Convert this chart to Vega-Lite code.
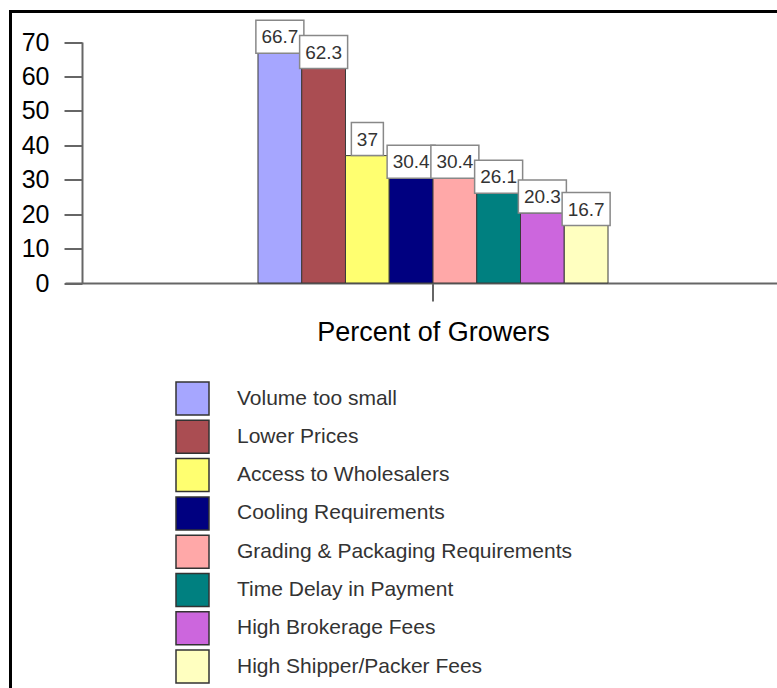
{
  "$schema": "https://vega.github.io/schema/vega-lite/v6.json",
  "width": 780,
  "height": 690,
  "autosize": {"type": "none"},
  "padding": {"left": 10.5, "top": 11.5, "right": 0, "bottom": 0},
  "background": "white",
  "config": {
    "view": {"stroke": "black", "strokeWidth": 3, "fill": "white"},
    "font": "Liberation Sans"
  },
  "data": {
    "values": [
      {"category": "Volume too small", "value": 66.7},
      {"category": "Lower Prices", "value": 62.3},
      {"category": "Access to Wholesalers", "value": 37},
      {"category": "Cooling Requirements", "value": 30.4},
      {"category": "Grading & Packaging Requirements", "value": 30.4},
      {"category": "Time Delay in Payment", "value": 26.1},
      {"category": "High Brokerage Fees", "value": 20.3},
      {"category": "High Shipper/Packer Fees", "value": 16.7}
    ]
  },
  "encoding": {
    "x": {
      "field": "category",
      "type": "nominal",
      "sort": null,
      "scale": {
        "domain": ["_l4", "_l3", "_l2", "_l1", "Volume too small", "Lower Prices", "Access to Wholesalers", "Cooling Requirements", "Grading & Packaging Requirements", "Time Delay in Payment", "High Brokerage Fees", "High Shipper/Packer Fees", "_r1", "_r2", "_r3", "_r4"],
        "range": [54.5, 790.5],
        "paddingInner": 0,
        "paddingOuter": 0.4114
      },
      "axis": {
        "orient": "bottom",
        "offset": -418.5,
        "values": ["Grading & Packaging Requirements"],
        "bandPosition": 0,
        "tickExtra": false,
        "labels": false,
        "grid": false,
        "domain": true,
        "domainColor": "#666666",
        "domainWidth": 2,
        "ticks": true,
        "tickColor": "#666666",
        "tickWidth": 2,
        "tickSize": 18,
        "title": "Percent of Growers",
        "titleFont": "Liberation Sans",
        "titleFontSize": 27,
        "titleFontWeight": "normal",
        "titleColor": "#000000",
        "titlePadding": 17
      }
    },
    "y": {
      "field": "value",
      "type": "quantitative",
      "scale": {"domain": [0, 70], "range": [271.5, 30.5], "nice": false},
      "axis": {
        "orient": "left",
        "offset": -71.5,
        "values": [0, 10, 20, 30, 40, 50, 60, 70],
        "grid": false,
        "domain": true,
        "domainColor": "#666666",
        "domainWidth": 2,
        "ticks": true,
        "tickColor": "#666666",
        "tickWidth": 2,
        "tickSize": 18,
        "labelFont": "Liberation Sans",
        "labelFontSize": 25,
        "labelColor": "#000000",
        "labelPadding": 15,
        "title": null
      }
    }
  },
  "layer": [
    {
      "mark": {"type": "bar", "stroke": "#3a3a3a", "strokeWidth": 1},
      "encoding": {
        "color": {
          "field": "category",
          "type": "nominal",
          "sort": null,
          "scale": {
            "domain": ["Volume too small", "Lower Prices", "Access to Wholesalers", "Cooling Requirements", "Grading & Packaging Requirements", "Time Delay in Payment", "High Brokerage Fees", "High Shipper/Packer Fees"],
            "range": ["#A6A6FF", "#AA4D52", "#FFFF70", "#000080", "#FFA8A8", "#008080", "#CC66DD", "#FFFFC0"]
          },
          "legend": {
            "title": null,
            "orient": "none",
            "legendX": 164.5,
            "legendY": 369.5,
            "padding": 0,
            "symbolType": "square",
            "symbolSize": 1089,
            "symbolStrokeColor": "#333333",
            "symbolStrokeWidth": 1.5,
            "symbolOpacity": 1,
            "labelFont": "Liberation Sans",
            "labelFontSize": 21,
            "labelColor": "#333333",
            "labelOffset": 27,
            "labelLimit": 0,
            "rowPadding": -0.7
          }
        }
      }
    },
    {
      "transform": [{"filter": "datum.value != 37"}],
      "mark": {"type": "point", "shape": "M-1,-0.6875H1V0.6875H-1Z", "size": 2304, "filled": true, "fill": "white", "stroke": "#888888", "strokeWidth": 1.5, "opacity": 1, "yOffset": -16.5}
    },
    {
      "transform": [{"filter": "datum.value == 37"}],
      "mark": {"type": "point", "shape": "M-1,-1.031H1V1.031H-1Z", "size": 1024, "filled": true, "fill": "white", "stroke": "#888888", "strokeWidth": 1.5, "opacity": 1, "yOffset": -16.5}
    },
    {
      "mark": {"type": "text", "font": "Liberation Sans", "fontSize": 19, "color": "#333333", "align": "center", "baseline": "middle", "yOffset": -16},
      "encoding": {"text": {"field": "value", "type": "quantitative"}}
    }
  ]
}
